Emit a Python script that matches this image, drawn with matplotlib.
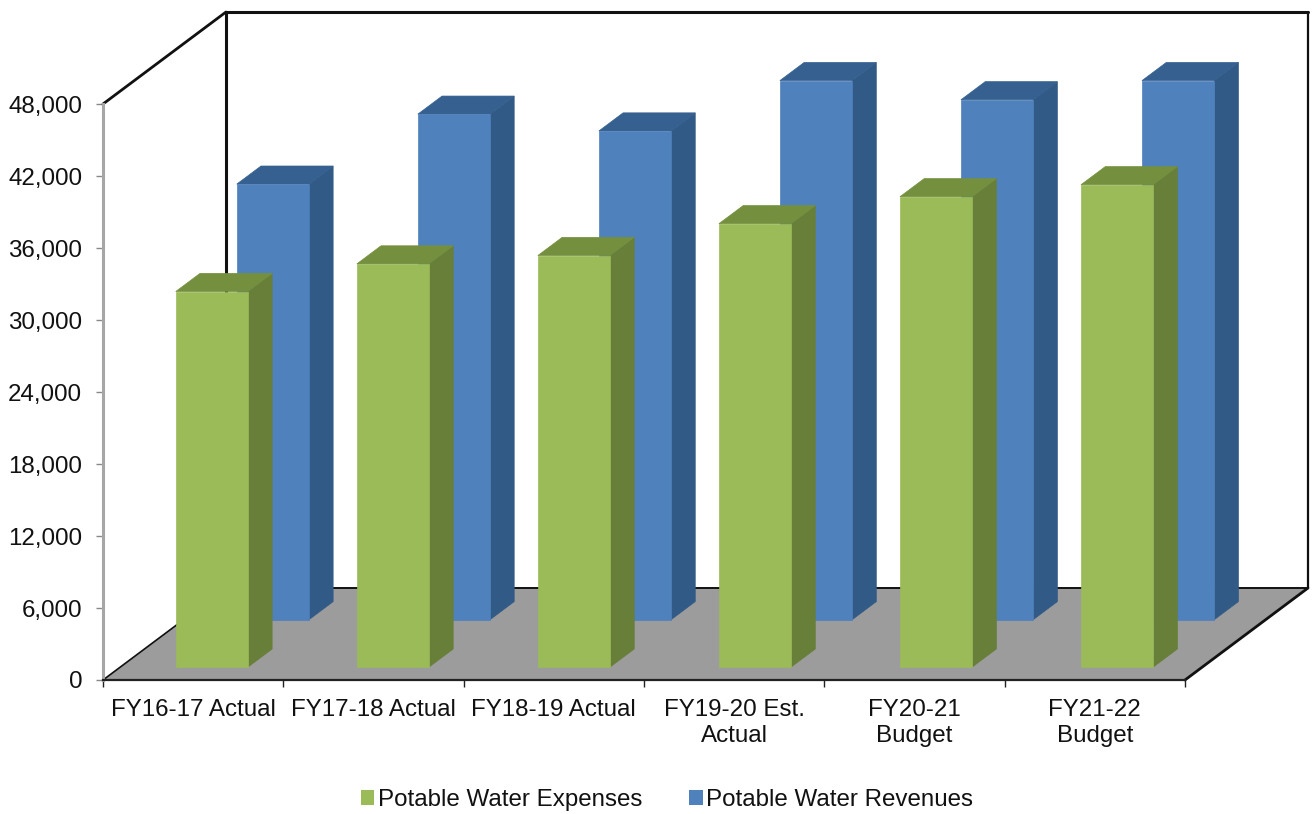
import matplotlib
matplotlib.use("Agg")
import matplotlib.pyplot as plt
from matplotlib.patches import Polygon, Patch

plt.rcParams['font.family'] = ['Liberation Sans', 'DejaVu Sans']

categories = ["FY16-17 Actual", "FY17-18 Actual", "FY18-19 Actual",
              "FY19-20 Est.\nActual", "FY20-21\nBudget", "FY21-22\nBudget"]
expenses = [31300, 33600, 34300, 36950, 39200, 40200]
revenues = [36300, 42130, 40730, 44930, 43330, 44930]
y_ticks = [0, 6000, 12000, 18000, 24000, 30000, 36000, 42000, 48000]

Y_MAX = 48000
# Oblique projection: full floor depth expressed in axis units
DEPTH_X = 123 / (1082 / 6)
DEPTH_Y = 92 / (576 / Y_MAX)
BAR_WIDTH = 0.40
BAR_DEPTH = 0.197
BAR_STEP = 1.004
FONT = 17.4


def proj(x, v, d):
    return (x + d * DEPTH_X, v + d * DEPTH_Y)


def draw_box(ax, center, value, depth, face, side, top, z):
    x0, x1 = center - BAR_WIDTH / 2, center + BAR_WIDTH / 2
    d0, d1 = depth, depth + BAR_DEPTH
    faces = [
        ([proj(x1, 0, d0), proj(x1, 0, d1), proj(x1, value, d1), proj(x1, value, d0)], side),
        ([proj(x0, value, d0), proj(x1, value, d0), proj(x1, value, d1), proj(x0, value, d1)], top),
        ([proj(x0, 0, d0), proj(x1, 0, d0), proj(x1, value, d0), proj(x0, value, d0)], face),
    ]
    for pts, color in faces:
        ax.add_patch(Polygon(pts, closed=True, facecolor=color, edgecolor=color,
                             linewidth=0.5, clip_on=False, zorder=z))


fig = plt.figure(figsize=(13.12, 8.14), dpi=100)
ax = fig.add_axes([103 / 1312, (814 - 680) / 814, 1082 / 1312, 576 / 814])
ax.set_xlim(0, 6)
ax.set_ylim(0, Y_MAX)
ax.patch.set_visible(False)

# Floor of the 3D box
ax.add_patch(Polygon([proj(0, 0, 0), proj(6, 0, 0), proj(6, 0, 1), proj(0, 0, 1)],
                     closed=True, facecolor="#9c9c9c", edgecolor="none",
                     clip_on=False, zorder=1))

# Wall outlines
wall = dict(color="#111111", clip_on=False, zorder=2, solid_capstyle="round")
for a, b, lw in [
    (proj(0, Y_MAX, 0), proj(0, Y_MAX, 1), 2.0),
    (proj(0, Y_MAX, 1), proj(6, Y_MAX, 1), 2.2),
    (proj(0, 0, 1), proj(0, Y_MAX, 1), 2.2),
    (proj(6, 0, 1), proj(6, Y_MAX, 1), 1.6),
    (proj(0, 0, 1), proj(6, 0, 1), 1.4),
    (proj(0, 0, 0), proj(0, 0, 1), 1.2),
    (proj(6, 0, 0), proj(6, 0, 1), 2.0),
]:
    ax.plot([a[0], b[0]], [a[1], b[1]], lw=lw, **wall)

# Revenues stand behind expenses in each category slot
for i, value in enumerate(revenues):
    draw_box(ax, i * BAR_STEP + 0.5 - 0.005, value, 0.655, "#4f81bd", "#315a87", "#35608f", 3 + i * 0.01)
for i, value in enumerate(expenses):
    draw_box(ax, i * BAR_STEP + 0.5 + 0.008, value, 0.14, "#9bbb59", "#677f38", "#74903e", 4 + i * 0.01)

# Axes, ticks and labels
for name in ("top", "right"):
    ax.spines[name].set_visible(False)
ax.spines["left"].set_color("#a6a6a6")
ax.spines["left"].set_linewidth(2.2)
ax.spines["bottom"].set_color("#222222")
ax.spines["bottom"].set_linewidth(1.6)
ax.spines["left"].set_zorder(2)
ax.spines["bottom"].set_zorder(5)

ax.set_yticks(y_ticks)
ax.set_yticklabels([f"{v:,}" for v in y_ticks], fontsize=FONT, color="#111111")
ax.tick_params(axis="y", length=5, width=1, color="#888888", pad=10)
ax.set_xticks(range(7))
ax.set_xticklabels([])
ax.tick_params(axis="x", which="major", length=5, width=1, color="#222222")
ax.set_xticks([i + 0.5 for i in range(6)], minor=True)
ax.set_xticklabels(categories, minor=True, fontsize=FONT, color="#111111", linespacing=1.23)
ax.tick_params(axis="x", which="minor", length=0, pad=14)

handles = [Patch(facecolor="#9bbb59", edgecolor="none", label="Potable Water Expenses"),
           Patch(facecolor="#4f81bd", edgecolor="none", label="Potable Water Revenues")]
fig.legend(handles=handles, loc="center", bbox_to_anchor=(667 / 1312, (814 - 800) / 814),
           ncol=2, frameon=False, fontsize=FONT, handlelength=0.55, handleheight=0.55,
           handletextpad=0.15, columnspacing=1.95, borderpad=0, labelcolor="#111111")

fig.savefig("out.png", dpi=100, facecolor="white")
